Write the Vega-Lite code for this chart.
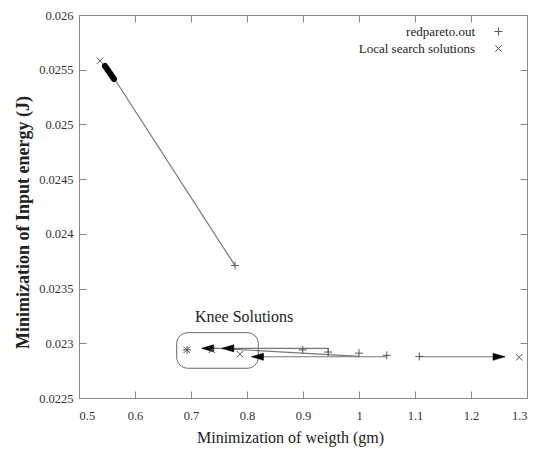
{
  "$schema": "https://vega.github.io/schema/vega-lite/v6.json",
  "width": 448,
  "height": 383,
  "autosize": "none",
  "padding": {"left": 79, "top": 15, "right": 15, "bottom": 52},
  "background": "white",
  "config": {
    "view": {"stroke": "#888", "strokeWidth": 1},
    "font": "Times New Roman",
    "axis": {
      "grid": false,
      "domainColor": "#888",
      "tickColor": "#888",
      "tickSize": -7,
      "labelFont": "Times New Roman",
      "labelFontSize": 12.5,
      "labelColor": "#333",
      "titleFont": "Times New Roman",
      "titleColor": "#222",
      "titleFontWeight": "normal"
    },
    "legend": {
      "labelFont": "Times New Roman",
      "labelFontSize": 13,
      "labelColor": "#222",
      "symbolStrokeColor": "#555",
      "symbolFillColor": "transparent",
      "symbolStrokeWidth": 1
    }
  },
  "datasets": {
    "points": [
      {"w": 0.7786, "e": 0.02371, "series": "redpareto.out"},
      {"w": 0.693, "e": 0.02294, "series": "redpareto.out"},
      {"w": 0.8995, "e": 0.02294, "series": "redpareto.out"},
      {"w": 0.945, "e": 0.02292, "series": "redpareto.out"},
      {"w": 1.0, "e": 0.02291, "series": "redpareto.out"},
      {"w": 1.0495, "e": 0.02289, "series": "redpareto.out"},
      {"w": 1.1077, "e": 0.02288, "series": "redpareto.out"},
      {"w": 0.5375, "e": 0.025582, "series": "Local search solutions"},
      {"w": 0.6923, "e": 0.02294, "series": "Local search solutions"},
      {"w": 0.737, "e": 0.02294, "series": "Local search solutions"},
      {"w": 0.7875, "e": 0.0229, "series": "Local search solutions"},
      {"w": 1.286, "e": 0.022872, "series": "Local search solutions"}
    ],
    "segments": [
      {"w": 0.7786, "e": 0.02371, "w2": 0.5554, "e2": 0.025479},
      {"w": 0.945, "e": 0.022954, "w2": 0.72, "e2": 0.022954},
      {"w": 0.945, "e": 0.022954, "w2": 0.945, "e2": 0.02291},
      {"w": 1.0, "e": 0.02288, "w2": 0.755, "e2": 0.022952},
      {"w": 1.05, "e": 0.022877, "w2": 0.808, "e2": 0.022877},
      {"w": 1.1077, "e": 0.022877, "w2": 1.2607, "e2": 0.022877}
    ],
    "blob": [
      {"w": 0.5464, "e": 0.025534, "w2": 0.5625, "e2": 0.025415}
    ],
    "headsLeft": [
      {"w": 0.719, "e": 0.022954},
      {"w": 0.755, "e": 0.022954},
      {"w": 0.808, "e": 0.022877}
    ],
    "headsRight": [
      {"w": 1.2607, "e": 0.022877}
    ],
    "box": [
      {"w": 0.6745, "e": 0.023097, "w2": 0.8202, "e2": 0.022772}
    ],
    "notes": [
      {"w": 0.707, "e": 0.023243, "label": "Knee Solutions"}
    ]
  },
  "layer": [
    {
      "data": {"name": "box"},
      "mark": {"type": "rect", "fill": null, "fillOpacity": 0, "stroke": "#666", "strokeWidth": 1, "cornerRadius": 11},
      "encoding": {
        "x": {"field": "w", "type": "quantitative", "scale": {"domain": [0.5, 1.3], "nice": false, "zero": false},
          "axis": {"orient": "bottom", "values": [0.5, 0.6, 0.7, 0.8, 0.9, 1, 1.1, 1.2, 1.3], "format": "~g", "labelPadding": 18, "title": "Minimization of weigth (gm)", "titleFontSize": 16, "titlePadding": 8, "titleX": 211}},
        "x2": {"field": "w2"},
        "y": {"field": "e", "type": "quantitative", "scale": {"domain": [0.0225, 0.026], "nice": false, "zero": false},
          "axis": {"orient": "left", "values": [0.0225, 0.023, 0.0235, 0.024, 0.0245, 0.025, 0.0255, 0.026], "format": ".4~f", "labelPadding": 13, "title": "Minimization of Input energy (J)", "titleFontSize": 18, "titleFontWeight": "bold", "titlePadding": 6, "titleY": 207}},
        "y2": {"field": "e2"}
      }
    },
    {
      "data": {"name": "segments"},
      "mark": {"type": "rule", "stroke": "#777", "strokeWidth": 1.2},
      "encoding": {
        "x": {"field": "w", "type": "quantitative", "scale": {"domain": [0.5, 1.3], "nice": false, "zero": false},
          "axis": {"orient": "top", "values": [0.5, 0.6, 0.7, 0.8, 0.9, 1, 1.1, 1.2, 1.3], "labels": false, "title": null}},
        "x2": {"field": "w2"},
        "y": {"field": "e", "type": "quantitative", "scale": {"domain": [0.0225, 0.026], "nice": false, "zero": false},
          "axis": {"orient": "right", "values": [0.0225, 0.023, 0.0235, 0.024, 0.0245, 0.025, 0.0255, 0.026], "labels": false, "title": null}},
        "y2": {"field": "e2"}
      }
    },
    {
      "data": {"name": "blob"},
      "mark": {"type": "rule", "stroke": "#000", "strokeWidth": 6, "strokeCap": "round"},
      "encoding": {
        "x": {"field": "w", "type": "quantitative", "scale": {"domain": [0.5, 1.3], "nice": false, "zero": false}, "axis": null},
        "x2": {"field": "w2"},
        "y": {"field": "e", "type": "quantitative", "scale": {"domain": [0.0225, 0.026], "nice": false, "zero": false}, "axis": null},
        "y2": {"field": "e2"}
      }
    },
    {
      "data": {"name": "headsLeft"},
      "mark": {"type": "point", "shape": "M0,0L2,-0.6L2,0.6Z", "filled": true, "fill": "#000", "stroke": "#000", "strokeWidth": 0.5, "size": 144, "opacity": 1},
      "encoding": {
        "x": {"field": "w", "type": "quantitative", "scale": {"domain": [0.5, 1.3], "nice": false, "zero": false}, "axis": null},
        "y": {"field": "e", "type": "quantitative", "scale": {"domain": [0.0225, 0.026], "nice": false, "zero": false}, "axis": null}
      }
    },
    {
      "data": {"name": "headsRight"},
      "mark": {"type": "point", "shape": "M0,0L-2,-0.6L-2,0.6Z", "filled": true, "fill": "#000", "stroke": "#000", "strokeWidth": 0.5, "size": 144, "opacity": 1},
      "encoding": {
        "x": {"field": "w", "type": "quantitative", "scale": {"domain": [0.5, 1.3], "nice": false, "zero": false}, "axis": null},
        "y": {"field": "e", "type": "quantitative", "scale": {"domain": [0.0225, 0.026], "nice": false, "zero": false}, "axis": null}
      }
    },
    {
      "data": {"name": "points"},
      "mark": {"type": "point", "filled": false, "stroke": "#555", "strokeWidth": 1, "size": 64, "opacity": 1},
      "encoding": {
        "x": {"field": "w", "type": "quantitative", "scale": {"domain": [0.5, 1.3], "nice": false, "zero": false}, "axis": null},
        "y": {"field": "e", "type": "quantitative", "scale": {"domain": [0.0225, 0.026], "nice": false, "zero": false}, "axis": null},
        "shape": {"field": "series", "type": "nominal",
          "scale": {"domain": ["redpareto.out", "Local search solutions"], "range": ["M-1,0L1,0M0,-1L0,1", "M-0.8,-0.8L0.8,0.8M-0.8,0.8L0.8,-0.8"]},
          "legend": {"orient": "none", "legendX": 413, "legendY": 10, "title": null, "labelAlign": "right", "labelOffset": -30, "padding": 0, "rowPadding": 3, "symbolSize": 64}}
      }
    },
    {
      "data": {"name": "notes"},
      "mark": {"type": "text", "align": "left", "baseline": "middle", "font": "Times New Roman", "fontSize": 16, "color": "#222"},
      "encoding": {
        "x": {"field": "w", "type": "quantitative", "scale": {"domain": [0.5, 1.3], "nice": false, "zero": false}, "axis": null},
        "y": {"field": "e", "type": "quantitative", "scale": {"domain": [0.0225, 0.026], "nice": false, "zero": false}, "axis": null},
        "text": {"field": "label", "type": "nominal"}
      }
    }
  ],
  "resolve": {"axis": {"x": "independent", "y": "independent"}}
}
